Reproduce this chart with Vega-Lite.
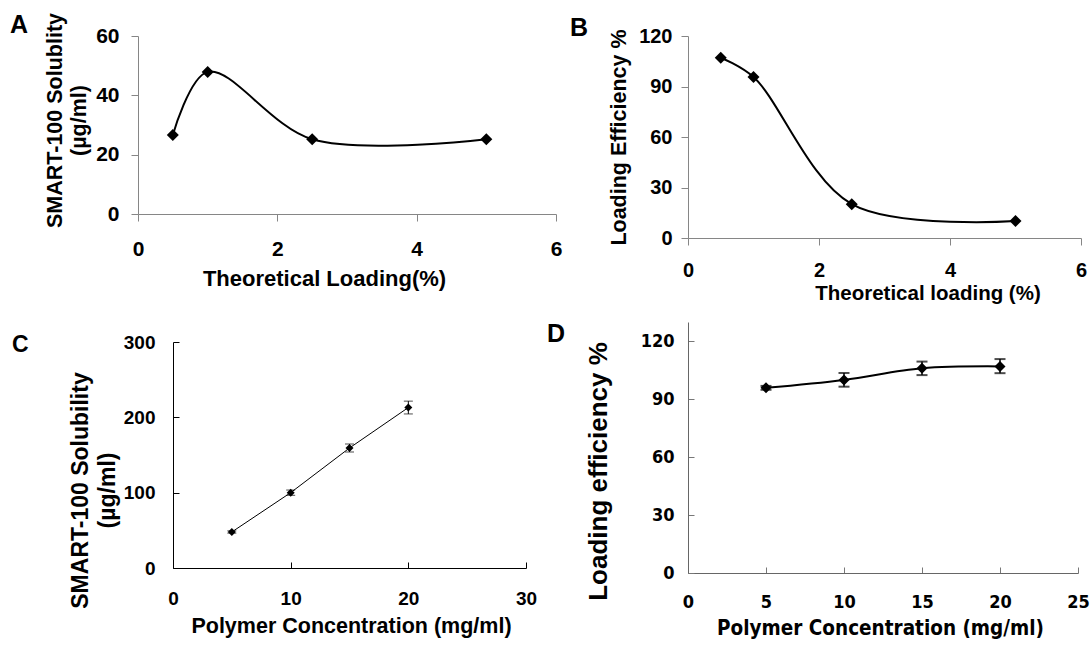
{
  "$schema": "https://vega.github.io/schema/vega-lite/v6.json",
  "background": "#ffffff",
  "padding": {"left": 10, "top": 12, "right": 0, "bottom": 0},
  "columns": 2,
  "bounds": "flush",
  "align": "none",
  "spacing": {"row": 84, "column": 132},
  "config": {
    "view": {"stroke": null},
    "font": "Liberation Sans",
    "title": {"fontSize": 25, "fontWeight": "bold", "anchor": "start", "frame": "group", "offset": 0, "color": "#000000", "baseline": "alphabetic", "font": "Liberation Sans"},
    "axis": {
      "grid": false,
      "domainColor": "#868686",
      "tickColor": "#868686",
      "domainWidth": 1,
      "tickWidth": 1,
      "labelColor": "#000000",
      "titleColor": "#000000",
      "labelFont": "Liberation Sans",
      "titleFont": "Liberation Sans",
      "labelFontWeight": "bold",
      "titleFontWeight": "bold",
      "labelFontSize": 21,
      "titleFontSize": 21,
      "labelFlush": false,
      "labelOverlap": false,
      "labelBound": false
    }
  },
  "datasets": {
    "solA": [
      {"loading": 0.5, "solubility": 26.6},
      {"loading": 1, "solubility": 47.9},
      {"loading": 2.5, "solubility": 25.2},
      {"loading": 5, "solubility": 25.2}
    ],
    "effB": [
      {"loading": 0.5, "efficiency": 107.1},
      {"loading": 1, "efficiency": 95.6},
      {"loading": 2.5, "efficiency": 20.1},
      {"loading": 5, "efficiency": 10.1}
    ],
    "solC": [
      {"conc": 5, "solubility": 47.8, "lo": 46.3, "hi": 49.3},
      {"conc": 10, "solubility": 100, "lo": 96.5, "hi": 103.5},
      {"conc": 15, "solubility": 159.3, "lo": 154, "hi": 164.6},
      {"conc": 20, "solubility": 213, "lo": 204.5, "hi": 221.5}
    ],
    "effD": [
      {"conc": 5, "efficiency": 95.9, "lo": 94.9, "hi": 96.9},
      {"conc": 10, "efficiency": 100, "lo": 96.5, "hi": 103.6},
      {"conc": 15, "efficiency": 106, "lo": 102.5, "hi": 109.5},
      {"conc": 20, "efficiency": 107, "lo": 103.5, "hi": 110.8}
    ]
  },
  "concat": [
    {
      "width": 418,
      "height": 178,
      "title": {"text": "A", "dx": -128, "dy": 30},
      "data": {"name": "solA"},
      "encoding": {
        "x": {
          "field": "loading", "type": "quantitative",
          "scale": {"domain": [0, 6], "nice": false},
          "axis": {"values": [0, 2, 4, 6], "title": "Theoretical Loading(%)", "titleFontSize": 22, "titleX": 186, "titleY": 54, "labelPadding": 17, "tickSize": 7}
        },
        "y": {
          "field": "solubility", "type": "quantitative",
          "scale": {"domain": [0, 60], "nice": false},
          "axis": {"values": [0, 20, 40, 60], "title": ["SMART-100 Solublity", "(µg/ml)"], "titleFontSize": 21.5, "titleX": -72, "titleY": 84, "titleLineHeight": 24, "labelPadding": 12, "tickSize": 7}
        }
      },
      "layer": [
        {"mark": {"type": "line", "interpolate": "catmull-rom", "color": "#000000", "strokeWidth": 2}},
        {"mark": {"type": "point", "shape": "diamond", "filled": true, "color": "#000000", "opacity": 1, "size": 144}}
      ]
    },
    {
      "width": 393,
      "height": 202,
      "title": {"text": "B", "dx": -118, "dy": 19},
      "data": {"name": "effB"},
      "encoding": {
        "x": {
          "field": "loading", "type": "quantitative",
          "scale": {"domain": [0, 6], "nice": false},
          "axis": {"values": [0, 2, 4, 6], "title": "Theoretical loading (%)", "titleFontSize": 20.5, "titleX": 239.5, "titleY": 45.5, "labelPadding": 15, "tickSize": 7, "labelFontSize": 20}
        },
        "y": {
          "field": "efficiency", "type": "quantitative",
          "scale": {"domain": [0, 120], "nice": false},
          "axis": {"values": [0, 30, 60, 90, 120], "title": "Loading Efficiency %", "titleFontSize": 21.5, "titleX": -58, "titleY": 101, "labelPadding": 9, "tickSize": 7, "labelFontSize": 20}
        }
      },
      "layer": [
        {"mark": {"type": "line", "interpolate": "catmull-rom", "color": "#000000", "strokeWidth": 2}},
        {"mark": {"type": "point", "shape": "diamond", "filled": true, "color": "#000000", "opacity": 1, "size": 144}}
      ]
    },
    {
      "width": 418,
      "height": 246,
      "title": {"text": "C", "dx": -126, "dy": 39, "fontSize": 23},
      "data": {"name": "solC"},
      "encoding": {
        "x": {
          "field": "conc", "type": "quantitative",
          "scale": {"domain": [0, 30], "nice": false, "range": [35, 388]},
          "axis": {"values": [0, 10, 20, 30], "title": "Polymer Concentration (mg/ml)", "titleFontSize": 21.5, "titleX": 213, "titleY": 47, "labelPadding": 27.6, "tickSize": -6, "labelFontSize": 19, "domainColor": "#000000", "tickColor": "#000000"}
        },
        "y": {
          "field": "solubility", "type": "quantitative",
          "scale": {"domain": [0, 300], "nice": false, "range": [246, 20]},
          "axis": {"offset": -35, "values": [0, 100, 200, 300], "title": ["SMART-100 Solubility", "(µg/ml)"], "titleFontSize": 23, "titleLineHeight": 27, "titleX": -80.7, "titleY": 168, "labelPadding": 24, "tickSize": -6, "labelFontSize": 19, "domainColor": "#000000", "tickColor": "#000000"}
        }
      },
      "layer": [
        {"mark": {"type": "line", "color": "#000000", "strokeWidth": 1}},
        {
          "mark": {"type": "rule", "color": "#000000", "strokeWidth": 1},
          "encoding": {"y": {"field": "lo", "type": "quantitative"}, "y2": {"field": "hi"}}
        },
        {
          "mark": {"type": "tick", "orient": "horizontal", "color": "#000000", "size": 9, "thickness": 1},
          "encoding": {"y": {"field": "lo", "type": "quantitative"}}
        },
        {
          "mark": {"type": "tick", "orient": "horizontal", "color": "#000000", "size": 9, "thickness": 1},
          "encoding": {"y": {"field": "hi", "type": "quantitative"}}
        },
        {"mark": {"type": "point", "shape": "diamond", "filled": true, "color": "#000000", "opacity": 1, "size": 64}}
      ]
    },
    {
      "width": 390,
      "height": 251,
      "title": {"text": "D", "dx": -141, "dy": 29},
      "data": {"name": "effD"},
      "encoding": {
        "x": {
          "field": "conc", "type": "quantitative",
          "scale": {"domain": [0, 25], "nice": false},
          "axis": {"values": [0, 5, 10, 15, 20, 25], "title": "Polymer Concentration (mg/ml)", "titleFont": "DejaVu Sans Condensed, Liberation Sans", "titleFontSize": 20.5, "titleX": 192, "titleY": 45, "labelFont": "DejaVu Sans Condensed, Liberation Sans", "labelFontSize": 18, "labelPadding": 26.4, "tickSize": -6, "domainColor": "#666666", "tickColor": "#777777"}
        },
        "y": {
          "field": "efficiency", "type": "quantitative",
          "scale": {"domain": [0, 130], "nice": false},
          "axis": {"values": [0, 30, 60, 90, 120], "title": "Loading efficiency %", "titleFontSize": 26, "titleX": -77, "titleY": 149, "labelFont": "DejaVu Sans Condensed, Liberation Sans", "labelFontSize": 18, "labelPadding": 20, "tickSize": -6, "domainColor": "#666666", "tickColor": "#777777"}
        }
      },
      "layer": [
        {"mark": {"type": "line", "interpolate": "catmull-rom", "color": "#000000", "strokeWidth": 2}},
        {
          "mark": {"type": "rule", "color": "#000000", "strokeWidth": 1.5},
          "encoding": {"y": {"field": "lo", "type": "quantitative"}, "y2": {"field": "hi"}}
        },
        {
          "mark": {"type": "tick", "orient": "horizontal", "color": "#000000", "size": 11, "thickness": 2},
          "encoding": {"y": {"field": "lo", "type": "quantitative"}}
        },
        {
          "mark": {"type": "tick", "orient": "horizontal", "color": "#000000", "size": 11, "thickness": 2},
          "encoding": {"y": {"field": "hi", "type": "quantitative"}}
        },
        {"mark": {"type": "point", "shape": "diamond", "filled": true, "color": "#000000", "opacity": 1, "size": 121}}
      ]
    }
  ]
}
